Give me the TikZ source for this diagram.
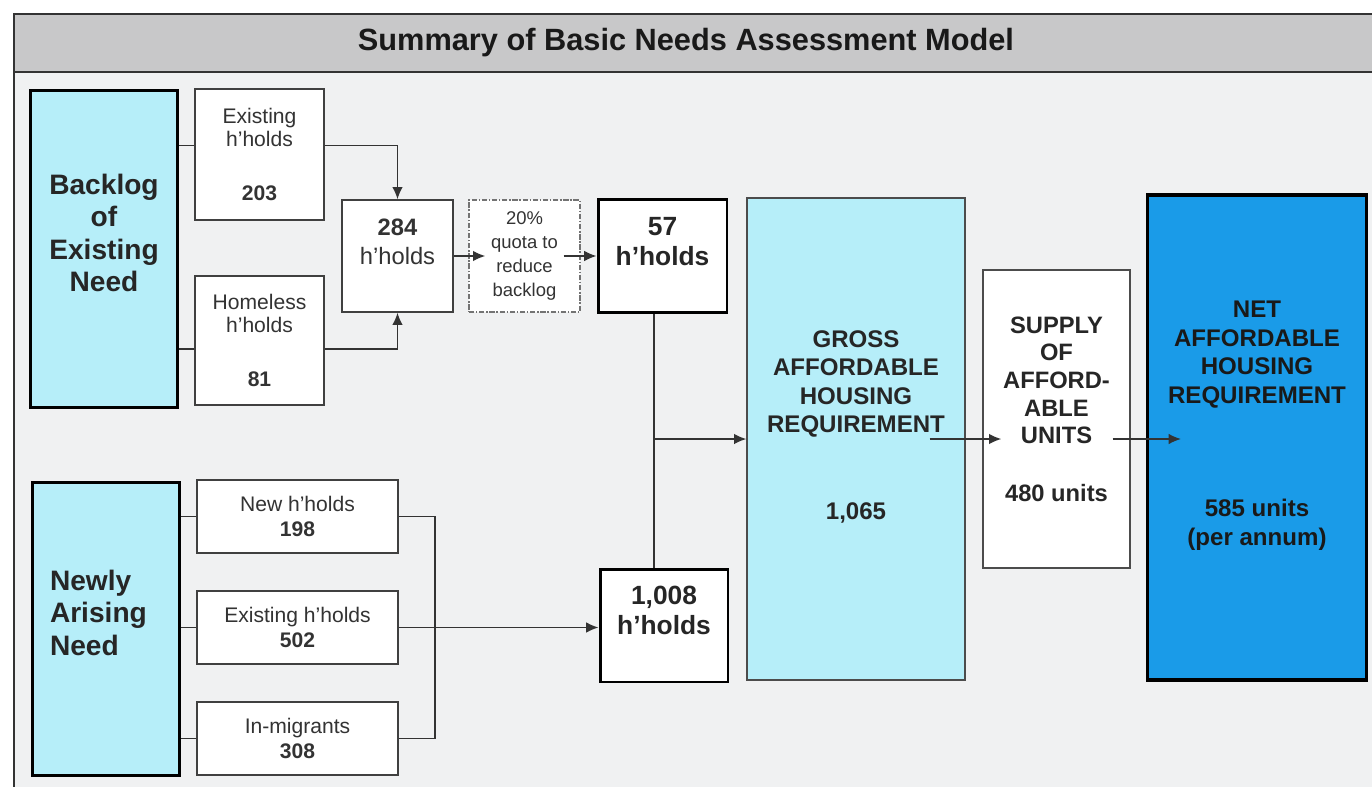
\documentclass[tikz,border=0pt]{standalone}
\usepackage{fontspec}
\setmainfont{Liberation Sans}
\usetikzlibrary{arrows.meta,calc}
\definecolor{panelgrey}{RGB}{240,241,242}
\definecolor{bargrey}{RGB}{200,200,201}
\definecolor{needcyan}{RGB}{182,238,249}
\definecolor{netblue}{RGB}{26,155,232}
\tikzset{
    title-text/.style = {font=\bfseries\fontsize{17.5}{20}\selectfont, text=black!90},
    need-box/.style = {draw=black, line width=1.7pt, fill=needcyan, align=center, inner sep=0pt, font=\bfseries\fontsize{16}{18.5}\selectfont, text=black!85},
    count-box/.style = {draw=black!75, line width=0.8pt, fill=white, align=center, inner sep=0pt, text=black!80, font=\fontsize{12}{13}\selectfont},
    arising-box/.style = {count-box, font=\fontsize{12}{14.5}\selectfont, minimum width=4.02cm, minimum height=1.46cm},
    sum-box/.style = {count-box, font=\fontsize{13.5}{16.5}\selectfont},
    quota-box/.style = {draw=black!55, line width=0.8pt, densely dashdotted, fill=white, align=center, inner sep=0pt, text=black!80, font=\fontsize{10.5}{13.5}\selectfont},
    key-box/.style = {draw=black, line width=1.7pt, fill=white, align=center, inner sep=0pt, text=black!85, font=\bfseries\fontsize{15}{17}\selectfont},
    req-box/.style = {draw=black!70, line width=0.8pt, align=center, inner sep=0pt, text=black!85, font=\bfseries\fontsize{13.7}{16.3}\selectfont},
    link/.style = {draw=black!80, line width=0.8pt},
    flow/.style = {link, -{Latex[length=7pt,width=6pt]}},
}
\begin{document}
\begin{tikzpicture}[x=0.02cm, y=-0.02cm]
\useasboundingbox (0,0) rectangle (1372,787);
\clip (0,0) rectangle (1372,787);
\fill[white] (0,0) rectangle (1372,787);
\filldraw[fill=panelgrey, draw=black!80, line width=1.2pt] (14,14) rectangle (1400,820);
\filldraw[fill=bargrey, draw=black!80, line width=1.2pt] (14,14) rectangle (1400,72);
\node[title-text] (title) at (686,43) {Summary of Basic Needs Assessment Model};

\node[need-box, minimum width=2.96cm, minimum height=6.36cm] (backlog) at (104,249) {Backlog\\of\\Existing\\Need\\\mbox{}};
\node[count-box, minimum width=2.58cm, minimum height=2.62cm] (exist) at (259.5,154.5) {Existing\\h'holds\\[0.62cm]\textbf{203}};
\node[count-box, minimum width=2.58cm, minimum height=2.58cm] (homeless) at (259.5,340.5) {Homeless\\h'holds\\[0.62cm]\textbf{81}};
\node[sum-box, minimum width=2.22cm, minimum height=2.24cm] (total) at (397.5,256) {\textbf{284}\\h'holds\\\mbox{}};
\node[quota-box, minimum width=2.22cm, minimum height=2.24cm] (quota) at (524.5,256) {20\%\\quota to\\reduce\\backlog};
\node[key-box, minimum width=2.58cm, minimum height=2.28cm] (hh57) at (662.5,256) {57\\h'holds\\\mbox{}};

\node[need-box, align=left, text width=2.24cm, inner xsep=0.36cm, minimum height=5.88cm] (newly) at (106,629) {Newly\\Arising\\Need\\\mbox{}};
\node[arising-box] (newhh) at (297.5,516.5) {New h'holds\\\textbf{198}};
\node[arising-box] (exhh) at (297.5,627.5) {Existing h'holds\\\textbf{502}};
\node[arising-box] (inmig) at (297.5,738.5) {In-migrants\\\textbf{308}};
\node[key-box, minimum width=2.56cm, minimum height=2.26cm] (hh1008) at (664,625.5) {1,008\\h'holds\\\mbox{}};

\node[req-box, fill=needcyan, minimum width=4.36cm, minimum height=9.64cm] (gross) at (856,439) {GROSS\\AFFORDABLE\\HOUSING\\REQUIREMENT\\[1.15cm]1,065\\\mbox{}};
\node[req-box, fill=white, font=\bfseries\fontsize{13.5}{15.7}\selectfont, minimum width=2.94cm, minimum height=5.96cm] (supply) at (1056.5,419) {SUPPLY\\OF\\AFFORD-\\ABLE\\UNITS\\[0.6cm]480 units\\[-4.3pt]\mbox{}};
\node[req-box, draw=black, line width=1.8pt, fill=netblue, text=black!90, minimum width=4.38cm, minimum height=9.7cm] (net) at (1257,437.5) {NET\\AFFORDABLE\\HOUSING\\REQUIREMENT\\[1.7cm]585 units\\(per annum)\\\mbox{}};

\coordinate (exist-in) at ([yshift=0.18cm]exist.west);
\coordinate (exist-out) at ([yshift=0.18cm]exist.east);
\coordinate (home-in) at ([yshift=-0.17cm]homeless.west);
\coordinate (home-out) at ([yshift=-0.17cm]homeless.east);
\draw[link] (backlog.east |- exist-in) -- (exist-in);
\draw[link] (backlog.east |- home-in) -- (home-in);
\draw[flow] (exist-out) -| (total.north);
\draw[flow] (home-out) -| (total.south);
\draw[flow] (total.east) -- ([xshift=0.34cm]quota.west);
\draw[flow] ([xshift=-0.34cm]quota.east) -- (hh57.west);

\draw[link] (newly.east |- newhh.west) -- (newhh.west);
\draw[link] (newly.east |- exhh.west) -- (exhh.west);
\draw[link] (newly.east |- inmig.west) -- (inmig.west);
\coordinate (bus) at (435,627.5);
\draw[link] (newhh.east) -| (bus) |- (inmig.east);
\draw[flow] (exhh.east) -- (hh1008.west |- exhh.east);

\coordinate (merge) at (654,439);
\draw[link] (hh57.south -| merge) -- (hh1008.north -| merge);
\draw[flow] (merge) -- (gross.west);
\draw[flow] ($(gross.east)+(-0.72cm,0)$) -- ($(supply.west |- gross.east)+(0.38cm,0)$);
\draw[flow] ($(supply.east |- gross.east)+(-0.36cm,0)$) -- ($(net.west |- gross.east)+(0.7cm,0)$);
\end{tikzpicture}
\end{document}
